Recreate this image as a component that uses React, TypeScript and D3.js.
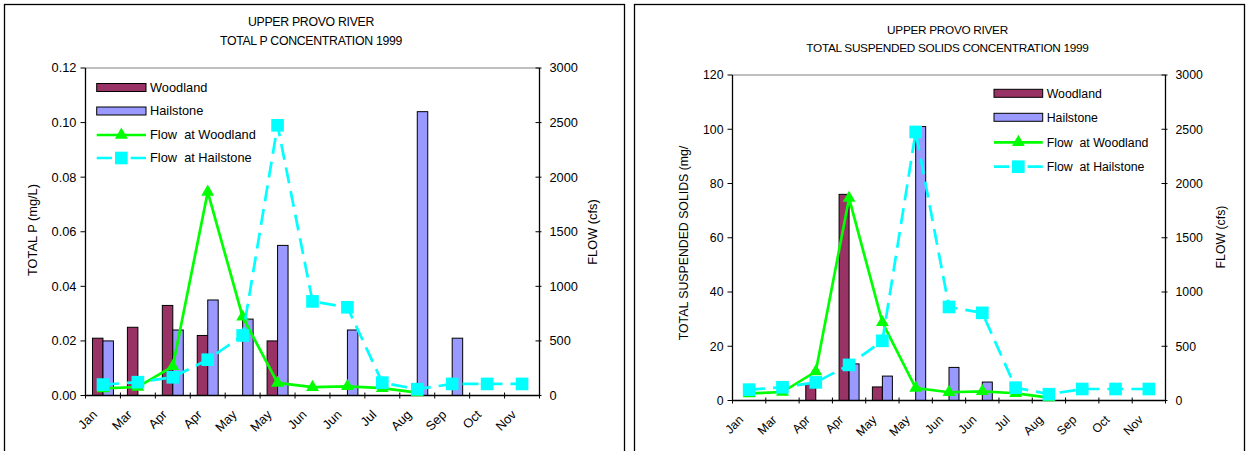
import * as d3 from "d3";

const months = ["Jan", "Mar", "Apr", "Apr", "May", "May", "Jun", "Jun", "Jul", "Aug", "Sep", "Oct", "Nov"];

// flow (cfs), right axis on both charts
const flowWoodland = [65, 78, 267, 1865, 720, 115, 76, 84, 67, 27, null, null, null];
const flowHailstone = [100, 122, 167, 328, 550, 2475, 862, 808, 118, 58, 106, 106, 106];

// total P (mg/L)
const tpWoodland = [0.021, 0.025, 0.033, 0.022, null, 0.02, null, null, null, null, null, null, null];
const tpHailstone = [0.02, null, 0.024, 0.035, 0.028, 0.055, null, 0.024, null, 0.104, 0.021, null, null];

// total suspended solids (mg/L)
const tssWoodland = [null, null, 6, 76, 5, null, null, null, null, null, null, null, null];
const tssHailstone = [null, null, null, 13.5, 9, 101, 12.2, 6.8, null, null, null, null, null];

const tpTicks = [0, 0.02, 0.04, 0.06, 0.08, 0.1, 0.12];
const tssTicks = [0, 20, 40, 60, 80, 100, 120];
const flowTicks = [0, 500, 1000, 1500, 2000, 2500, 3000];
const legendLabels = ["Woodland", "Hailstone", "Flow  at Woodland", "Flow  at Hailstone"];

const WOOD = "#993366";
const HAIL = "#9999FF";
const GREEN = "#00FF00";
const CYAN = "#00FFFF";
const FONT = "'Liberation Sans', Arial, sans-serif";

const tri = d3.symbol().type(d3.symbolTriangle).size(72)();
const sq = d3.symbol().type(d3.symbolSquare).size(160)();

function Panel(props) {
  const { frame, plot, titles, titleX, titleY, yTitle, yTitlePos, flowTitlePos, legend,
    woodland, hailstone, yTicks, yFormat, fs } = props;

  const x = d3.scaleBand().domain(months.map((_, i) => i)).range([plot.left, plot.right]).padding(0);
  const y = d3.scaleLinear().domain([yTicks[0], yTicks[yTicks.length - 1]]).range([plot.bottom, plot.top]);
  const yFlow = d3.scaleLinear().domain([0, 3000]).range([plot.bottom, plot.top]);
  const bw = x.bandwidth() * 0.3;
  const cx = (i) => x(i) + x.bandwidth() / 2;

  const line = d3.line()
    .defined((d) => d != null)
    .x((_, i) => cx(i))
    .y((d) => yFlow(d));

  const catEdges = months.map((_, i) => x(i)).concat([plot.right]);

  return (
    <g fontFamily={FONT}>
      <rect x={frame.x} y={frame.y} width={frame.w} height={frame.h} fill="#fff" stroke="#000" strokeWidth={1.3} />

      {titles.map((t, i) => (
        <text key={i} x={titleX} y={titleY[i]} textAnchor="middle" fontSize={fs - 0.5} letterSpacing={-0.3}>{t}</text>
      ))}

      {/* bars */}
      {woodland.map((v, i) => v == null ? null : (
        <rect key={"w" + i} x={cx(i) - bw} y={y(v)} width={bw} height={plot.bottom - y(v)}
          fill={WOOD} stroke="#000" strokeWidth={1} />
      ))}
      {hailstone.map((v, i) => v == null ? null : (
        <rect key={"h" + i} x={cx(i)} y={y(v)} width={bw} height={plot.bottom - y(v)}
          fill={HAIL} stroke="#000" strokeWidth={1} />
      ))}

      {/* plot top border */}
      <line x1={plot.left} x2={plot.right} y1={plot.top} y2={plot.top} stroke="#808080" strokeWidth={1} />

      {/* left axis */}
      <line x1={plot.left} x2={plot.left} y1={plot.top} y2={plot.bottom} stroke="#000" strokeWidth={1.3} />
      {yTicks.map((t) => (
        <g key={"yl" + t}>
          <line x1={plot.left - 5} x2={plot.left} y1={y(t)} y2={y(t)} stroke="#000" />
          <text x={plot.left - 9} y={y(t)} dy="0.35em" textAnchor="end" fontSize={fs}>{yFormat(t)}</text>
        </g>
      ))}

      {/* right axis */}
      <line x1={plot.right} x2={plot.right} y1={plot.top} y2={plot.bottom} stroke="#000" strokeWidth={1.3} />
      {flowTicks.map((t) => (
        <g key={"yr" + t}>
          <line x1={plot.right - 4} x2={plot.right + 2} y1={yFlow(t)} y2={yFlow(t)} stroke="#000" />
          <text x={plot.right + 10} y={yFlow(t)} dy="0.35em" fontSize={fs}>{t}</text>
        </g>
      ))}

      {/* bottom axis */}
      <line x1={plot.left} x2={plot.right} y1={plot.bottom} y2={plot.bottom} stroke="#000" strokeWidth={1.3} />
      {catEdges.map((e, i) => (
        <line key={"xt" + i} x1={e} x2={e} y1={plot.bottom - 3} y2={plot.bottom + 3} stroke="#000" />
      ))}
      {months.map((m, i) => (
        <text key={"xl" + i} transform={`translate(${cx(i) - 5},${plot.bottom + 20}) rotate(-45)`}
          textAnchor="end" fontSize={fs}>{m}</text>
      ))}

      {/* axis titles */}
      <text transform={`translate(${yTitlePos[0]},${yTitlePos[1]}) rotate(-90)`} textAnchor="middle"
        dy="0.35em" fontSize={fs}>{yTitle}</text>
      <text transform={`translate(${flowTitlePos[0]},${flowTitlePos[1]}) rotate(-90)`} textAnchor="middle"
        dy="0.35em" fontSize={fs}>FLOW (cfs)</text>

      {/* flow lines */}
      <path d={line(flowWoodland)} fill="none" stroke={GREEN} strokeWidth={2.7} />
      {flowWoodland.map((v, i) => v == null ? null : (
        <path key={"tw" + i} d={tri} transform={`translate(${cx(i)},${yFlow(v)})`} fill={GREEN} />
      ))}
      <path d={line(flowHailstone)} fill="none" stroke={CYAN} strokeWidth={2.7} strokeDasharray="16,8" />
      {flowHailstone.map((v, i) => v == null ? null : (
        <path key={"sh" + i} d={sq} transform={`translate(${cx(i)},${yFlow(v)})`} fill={CYAN} />
      ))}

      {/* legend */}
      <g>
        <rect x={legend.x} y={legend.rows[0] - 4} width={legend.w} height={8} fill={WOOD} stroke="#000" />
        <rect x={legend.x} y={legend.rows[1] - 4} width={legend.w} height={8} fill={HAIL} stroke="#000" />
        <line x1={legend.x} x2={legend.x + legend.w} y1={legend.rows[2]} y2={legend.rows[2]} stroke={GREEN} strokeWidth={2.7} />
        <path d={tri} transform={`translate(${legend.x + legend.w / 2},${legend.rows[2]})`} fill={GREEN} />
        <line x1={legend.x} x2={legend.x + legend.w} y1={legend.rows[3]} y2={legend.rows[3]} stroke={CYAN}
          strokeWidth={2.7} strokeDasharray={`${legend.w * 0.31},${legend.w * 0.38}`} />
        <path d={sq} transform={`translate(${legend.x + legend.w / 2},${legend.rows[3]})`} fill={CYAN} />
        {legendLabels.map((l, i) => (
          <text key={"lg" + i} x={legend.x + legend.w + 4} y={legend.rows[i]} dy="0.35em" fontSize={fs}
            style={{ whiteSpace: "pre" }}>{l}</text>
        ))}
      </g>
    </g>
  );
}

export default function App() {
  return (
    <svg width={1249} height={451} style={{ position: "absolute", left: 0, top: 0, display: "block", background: "#fff" }}>
      <Panel
        frame={{ x: 4.5, y: 4.5, w: 620, h: 470 }}
        plot={{ left: 85.5, right: 539.5, top: 68, bottom: 395.5 }}
        titles={["UPPER PROVO RIVER", "TOTAL P CONCENTRATION 1999"]}
        titleX={311}
        titleY={[26, 45]}
        yTitle="TOTAL P (mg/L)"
        yTitlePos={[33, 230]}
        flowTitlePos={[593, 232]}
        legend={{ x: 96.7, w: 49.3, rows: [87.5, 111, 135, 158] }}
        woodland={tpWoodland}
        hailstone={tpHailstone}
        yTicks={tpTicks}
        yFormat={d3.format(".2f")}
        fs={12.8}
      />
      <Panel
        frame={{ x: 634.5, y: 4.5, w: 610, h: 470 }}
        plot={{ left: 732.5, right: 1165.5, top: 75, bottom: 400.5 }}
        titles={["UPPER PROVO RIVER", "TOTAL SUSPENDED SOLIDS CONCENTRATION 1999"]}
        titleX={947.5}
        titleY={[34, 52]}
        yTitle="TOTAL SUSPENDED SOLIDS (mg/"
        yTitlePos={[684, 243]}
        flowTitlePos={[1221, 237]}
        legend={{ x: 994, w: 48.7, rows: [93.3, 117.3, 142.3, 166.7] }}
        woodland={tssWoodland}
        hailstone={tssHailstone}
        yTicks={tssTicks}
        yFormat={d3.format("d")}
        fs={12.3}
      />
    </svg>
  );
}
